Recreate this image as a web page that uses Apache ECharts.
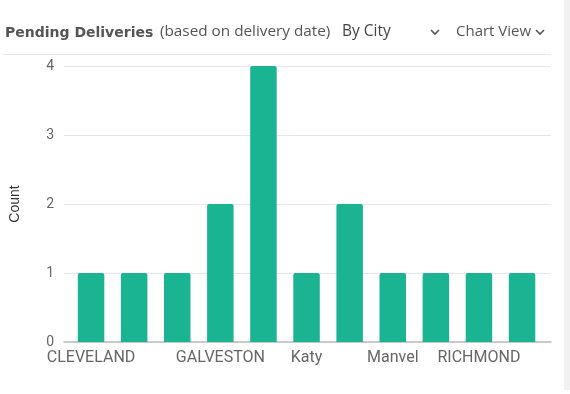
<!DOCTYPE html>
<html><head><meta charset="utf-8">
<script src="https://cdn.jsdelivr.net/npm/echarts@6/dist/echarts.min.js"></script>
<style>html,body{margin:0;padding:0;background:#fff;}#c{width:570px;height:394px;}</style>
</head><body><div id="c"></div>
<script>
const categories = ['CLEVELAND','CONROE','CYPRESS','GALVESTON','HOUSTON','Katy','League City','Manvel','Pearland','RICHMOND','Sugar Land'];
const counts = [1,1,1,2,4,1,2,1,1,1,1];
const yTicks = [0,1,2,3,4];
const shownLabels = [0,3,5,7,9];

const chart = echarts.init(document.getElementById('c'));
const font = 'Roboto, sans-serif';
function chevron(x, y){
  return {type:'polyline', shape:{points:[[x,y],[x+4,y+4],[x+8,y]]}, style:{stroke:'#555', lineWidth:1.6, fill:null}};
}
chart.setOption({
  animation:false,
  grid:[
    {left:62, right:19, top:66, bottom:52},
    {left:69.5, right:26.4, top:66, bottom:52}
  ],
  xAxis:[
    {gridIndex:0, type:'category', data:categories, show:true, axisLine:{show:true,lineStyle:{color:'#bdbdbd',width:1.5}}, axisTick:{show:false}, axisLabel:{show:false}},
    {gridIndex:1, type:'category', data:categories, axisLine:{show:false}, axisTick:{show:false},
     axisLabel:{interval:(i)=>shownLabels.indexOf(i)>=0, color:'#666', fontSize:16, fontFamily:font, margin:8}}
  ],
  yAxis:[
    {gridIndex:0, type:'value', min:yTicks[0], max:yTicks[yTicks.length-1], interval:1,
     name:'Count', nameLocation:'middle', nameGap:42, nameTextStyle:{color:'#333', fontSize:14, fontFamily:'"Liberation Sans", Arial, sans-serif'},
     axisLabel:{color:'#666', fontSize:14, fontFamily:font, margin:10},
     splitLine:{lineStyle:{color:'#e6e6e6'}}, axisLine:{show:false}, axisTick:{show:false}},
    {gridIndex:1, type:'value', min:yTicks[0], max:yTicks[yTicks.length-1], interval:1, show:false, splitLine:{show:false}}
  ],
  series:[{
    type:'bar', xAxisIndex:1, yAxisIndex:1, data:counts, barWidth:26.5,
    itemStyle:{color:'#1bb493', borderRadius:[2,2,0,0]}
  }],
  graphic:[
    {type:'rect', shape:{x:564,y:0,width:6,height:390}, style:{fill:'#f1f1f1'}},
    {type:'rect', shape:{x:3,y:54,width:548,height:1}, style:{fill:'#e8e8e8'}},
    {type:'text', left:5, top:26, style:{text:'Pending Deliveries', font:'bold 14px "DejaVu Sans", sans-serif', fill:'#555'}},
    {type:'text', left:160, top:24, style:{text:'(based on delivery date)', font:'15.3px "Open Sans", sans-serif', fill:'#555'}},
    {type:'text', left:342, top:24, style:{text:'By City', font:'15.5px "Open Sans", sans-serif', fill:'#444'}},
    chevron(431,30),
    {type:'text', left:456, top:24, style:{text:'Chart View', font:'15px "Open Sans", sans-serif', fill:'#555'}},
    chevron(536,30)
  ]
});
</script></body></html>
